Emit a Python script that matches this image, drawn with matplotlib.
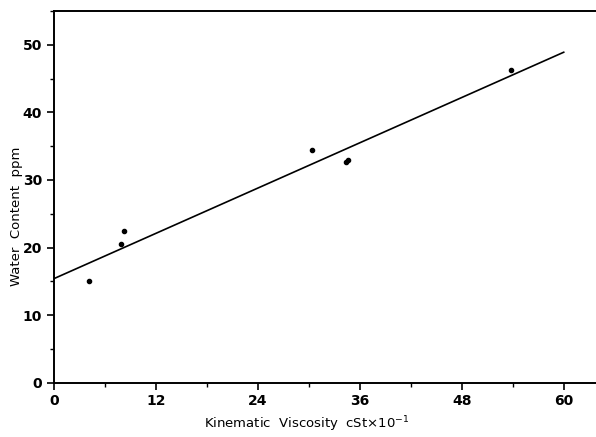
import matplotlib
matplotlib.use("Agg")
import matplotlib.pyplot as plt
from matplotlib.ticker import MultipleLocator

# data
viscosity = [4.1, 7.85, 8.2, 30.35, 34.4, 34.6, 53.8]
water = [15.1, 20.5, 22.4, 34.4, 32.6, 33.0, 46.2]
fit_x = [0, 60]
fit_y = [15.4, 48.9]
xticks = [0, 12, 24, 36, 48, 60]
yticks = [0, 10, 20, 30, 40, 50]

fig = plt.figure(figsize=(5.96, 4.37), dpi=100)
ax = fig.add_axes([0.0906, 0.1243, 0.9094, 0.8505])

ax.plot(fit_x, fit_y, color="black", lw=1.2)
ax.scatter(viscosity, water, s=9, color="black", zorder=3)

ax.set_xlim(0, 63.8)
ax.set_ylim(0, 55)
ax.set_xticks(xticks)
ax.set_yticks(yticks)
ax.xaxis.set_minor_locator(MultipleLocator(6))
ax.yaxis.set_minor_locator(MultipleLocator(5))
ax.tick_params(which="major", direction="out", length=5, width=1.2, labelsize=10)
ax.tick_params(which="minor", direction="out", length=3, width=1.0)
for lab in ax.get_xticklabels() + ax.get_yticklabels():
    lab.set_fontweight("bold")

ax.spines["right"].set_visible(False)
for s in ["left", "bottom", "top"]:
    ax.spines[s].set_linewidth(1.4)

ax.set_xlabel(r"Kinematic  Viscosity  cSt$\times$10$^{-1}$", fontsize=9.5)
ax.set_ylabel("Water  Content  ppm", fontsize=9.5)
ax.xaxis.set_label_coords(0.467, -0.085)
ax.yaxis.set_label_coords(-0.057, 0.448)

fig.savefig("out.png", dpi=100)
